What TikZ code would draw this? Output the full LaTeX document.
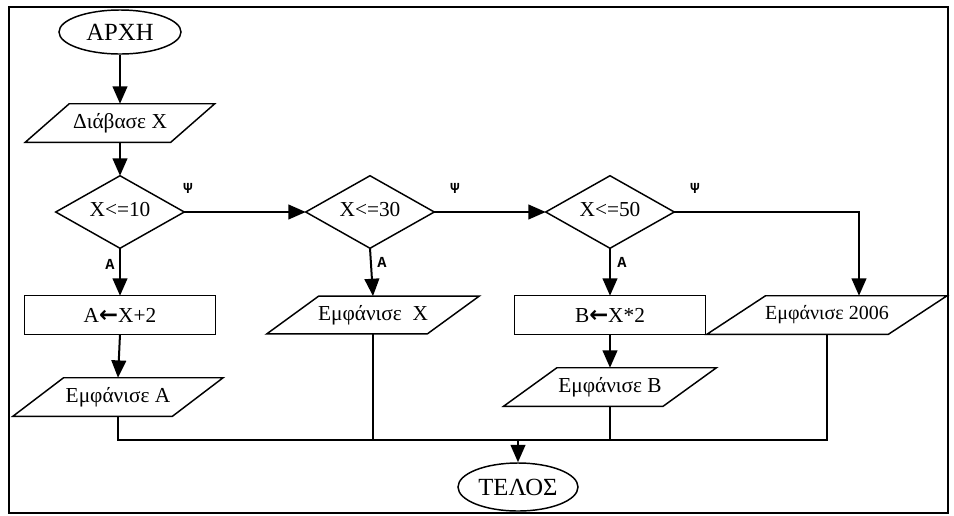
\documentclass[tikz,border=0pt]{standalone}
\usepackage{fontspec}
\setmainfont{Liberation Serif}
\newfontfamily\courfont{Liberation Mono}
\newfontfamily\arrowfont{DejaVu Sans}
\usetikzlibrary{shapes.geometric,arrows.meta,calc}
\tikzset{
  outline/.style={draw=black, line width=1.1pt, line join=miter},
  conn/.style={draw=black, line width=1.5pt},
  arr/.style={conn, -{Triangle[length=13pt,width=11pt]}},
  txt/.style={font=\fontsize{16}{18}\selectfont, inner sep=0pt, rectangle},
  term/.style={ellipse, outline, inner sep=0pt, font=\fontsize{18.5}{20}\selectfont},
  lbl/.style={font=\courfont\bfseries\fontsize{11.5}{13}\selectfont, inner sep=0pt},
}
\newcommand\drawpara[2]{\draw[outline] ([xshift=#2]#1.north west) -- ([xshift=#2]#1.north east) -- ([xshift=-#2]#1.south east) -- ([xshift=-#2]#1.south west) -- cycle;}
\newcommand\drawdiam[1]{\draw[outline] (#1.north) -- (#1.east) -- (#1.south) -- (#1.west) -- cycle;}
\newcommand\drawbox[1]{\draw[outline] (#1.north west) rectangle (#1.south east);}
\newcommand\larr{{\arrowfont\bfseries\fontsize{17}{18}\selectfont ←}}
\begin{document}
\begin{tikzpicture}[x=0.75pt,y=-0.75pt]
\useasboundingbox (0,0) rectangle (954,515);
\draw[line width=1.5pt] (9,7) rectangle (948,513);
% nodes
\node[term, minimum width=91.5pt, minimum height=33pt] (start) at (120,32) {ΑΡΧΗ};
\node[txt, minimum width=108.75pt, minimum height=28.5pt] (read) at (120,123) {Διάβασε X};
\node[txt, minimum width=96pt, minimum height=54pt, text depth=4pt] (d1) at (120,212) {X<=10};
\node[txt, minimum width=96pt, minimum height=54pt, text depth=4pt] (d2) at (370,212) {X<=30};
\node[txt, minimum width=96pt, minimum height=54pt, text depth=4pt] (d3) at (610,212) {X<=50};
\node[txt, minimum width=142.5pt, minimum height=28.5pt] (rA) at (120,315) {A\larr X+2};
\node[txt, minimum width=120pt, minimum height=28pt] (pX) at (373,315) {Εμφάνισε\ \ X};
\node[txt, minimum width=142.5pt, minimum height=28.5pt] (rB) at (610,315) {B\larr X*2};
\node[txt, font=\fontsize{15}{17}\selectfont, minimum width=135.75pt, minimum height=28.5pt] (p2006) at (827,315) {Εμφάνισε 2006};
\node[txt, minimum width=119.25pt, minimum height=28.5pt] (pA) at (118,397) {Εμφάνισε A};
\node[txt, minimum width=119.25pt, minimum height=28.5pt] (pB) at (610,387) {Εμφάνισε B};
\node[term, minimum width=90pt, minimum height=36pt] (end) at (518,487) {ΤΕΛΟΣ};
% shapes
\drawpara{read}{16.5pt}
\drawdiam{d1}\drawdiam{d2}\drawdiam{d3}
\drawbox{rA}\drawbox{rB}
\drawpara{pX}{19.5pt}
\drawpara{p2006}{22pt}
\drawpara{pA}{19pt}
\drawpara{pB}{20pt}
% labels
\node[lbl] (y1) at (188,188) {Ψ};
\node[lbl] (y2) at (455,188) {Ψ};
\node[lbl] (y3) at (695,188) {Ψ};
\node[lbl] (a1) at (110,264) {A};
\node[lbl] (a2) at (382,262) {A};
\node[lbl] (a3) at (622,262) {A};
% connectors
\draw[arr] (start.south) -- (read.north);
\draw[arr] (read.south) -- (d1.north);
\draw[arr] (d1.east) -- (d2.west);
\draw[arr] (d2.east) -- (d3.west);
\coordinate (turn) at (859,212);
\draw[arr] (d3.east) -- (turn) -- (turn |- p2006.north);
\draw[arr] (d1.south) -- (rA.north);
\draw[arr] (d2.south) -- (pX.north);
\draw[arr] (d3.south) -- (rB.north);
\draw[arr] (rA.south) -- (pA.north);
\draw[arr] (rB.south) -- (pB.north);
\coordinate (join) at (518,440);
\draw[conn] (pA.south) |- (join);
\draw[conn] (p2006.south) |- (join);
\draw[conn] (pX.south) -- (pX.south |- join);
\draw[conn] (pB.south) -- (pB.south |- join);
\draw[arr] (join) -- (end.north);
\end{tikzpicture}
\end{document}
